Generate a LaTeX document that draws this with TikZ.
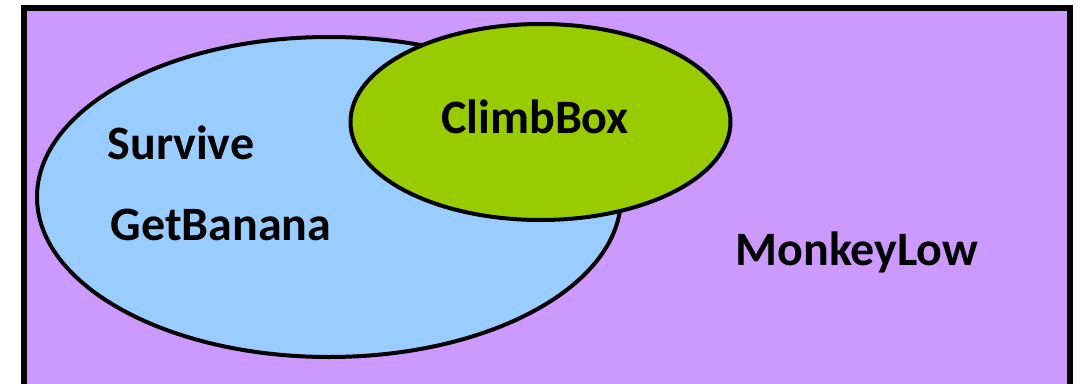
\documentclass[tikz,border=0pt]{standalone}
\usepackage{fontspec}
\setmainfont{Carlito}
\definecolor{bgpurple}{HTML}{CC99FF}
\definecolor{setblue}{HTML}{99CCFF}
\definecolor{setgreen}{HTML}{99CC00}
\tikzset{
  lbl/.style={font=\bfseries\fontsize{48}{56}\selectfont, text=black, inner sep=0pt},
}
\begin{document}
\begin{tikzpicture}[x=1pt,y=-1pt]
\useasboundingbox (0,0) rectangle (1082,383);
\fill[white] (0,0) rectangle (1082,383);
\begin{scope}
\clip (0,0) rectangle (1082,383);
\draw[line width=6pt, fill=bgpurple] (24,8) rectangle (1070,420);
\end{scope}
\draw[line width=4pt, fill=setblue] (329,197) ellipse [x radius=292, y radius=160];
\draw[line width=4pt, fill=setgreen] (540.5,122) ellipse [x radius=190, y radius=98];
\node[lbl] (climb) at (535,117) {ClimbBox};
\node[lbl] (survive) at (181,143) {Survive};
\node[lbl] (getb) at (221,225) {GetBanana};
\node[lbl] (monkey) at (857,252) {MonkeyLow};
\end{tikzpicture}
\end{document}
